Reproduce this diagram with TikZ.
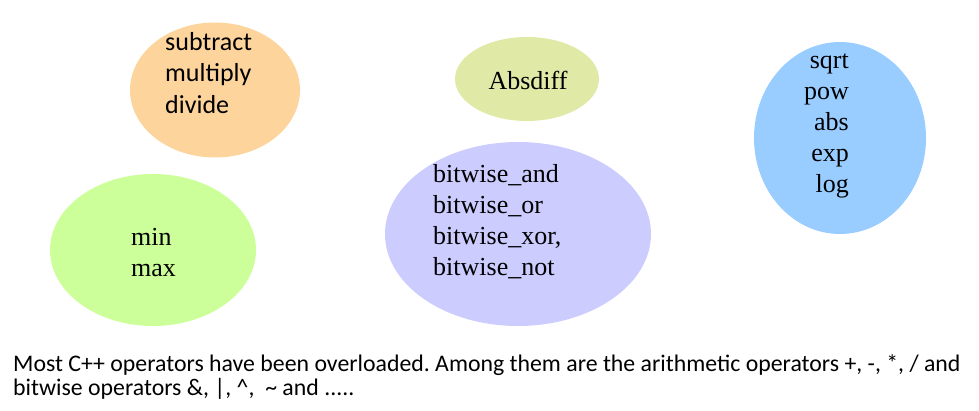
\documentclass[tikz,border=0pt]{standalone}
\usepackage{fontspec}
\setmainfont{Liberation Serif}
\newfontfamily\calibri{Carlito}
\usetikzlibrary{shapes.geometric}
\frenchspacing

\definecolor{arithorange}{HTML}{FDD49B}
\definecolor{absgreen}{HTML}{E0EAA6}
\definecolor{mathblue}{HTML}{99CCFF}
\definecolor{minmaxgreen}{HTML}{CCFF99}
\definecolor{bitlilac}{HTML}{CCCCFF}

\tikzset{
  blob/.style={ellipse, inner sep=0pt},
  oplist/.style={inner sep=0pt, font=\fontsize{26}{31}\selectfont},
}

\begin{document}
\begin{tikzpicture}[x=1pt, y=-1pt]
\useasboundingbox (0,0) rectangle (979,410);

% groups of operators
\node[blob, fill=arithorange, minimum width=170pt, minimum height=135pt] (arith) at (215,90) {};
\node[blob, fill=absgreen, minimum width=144pt, minimum height=84pt] (absd) at (527,79) {};
\node[blob, fill=mathblue, minimum width=172pt, minimum height=192pt] (mathf) at (840,138) {};
\node[blob, fill=minmaxgreen, minimum width=206pt, minimum height=152pt] (minmax) at (153,250) {};
\node[blob, fill=bitlilac, minimum width=266pt, minimum height=184pt] (bitw) at (518,234) {};

% names inside (base = last line)
\node[oplist, font=\calibri\fontsize{26}{31.5}\selectfont, align=left, anchor=base west] (arithtxt) at (165,113) {subtract\\multiply\\divide};
\node[oplist, anchor=base] (abstxt) at (528,89) {Absdiff};
\node[oplist, align=right, anchor=base east] (mathtxt) at (849,192) {sqrt\\pow\\abs\\exp\\log};
\node[oplist, align=left, anchor=base west] (minmaxtxt) at (131,276) {min\\max};
\node[oplist, align=left, anchor=base west] (bitwtxt) at (433,275) {bitwise\_and\\bitwise\_or\\bitwise\_xor,\\bitwise\_not};

% note below
\node[inner sep=0pt, align=left, anchor=base west, font=\calibri\fontsize{23.8}{24}\selectfont] (note) at (13,395)
  {Most C++ operators have been overloaded. Among them are the arithmetic operators +, -, *, / and\\
   bitwise operators \&, |, \textasciicircum,\ \ \textasciitilde\ and .....};
\end{tikzpicture}
\end{document}
